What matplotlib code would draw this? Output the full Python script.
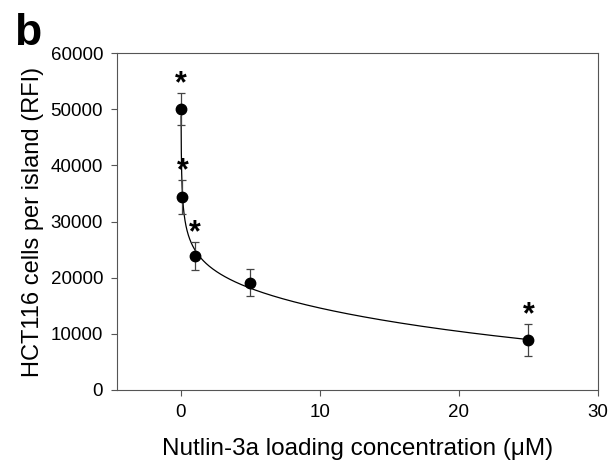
import numpy as np
import matplotlib.pyplot as plt

plt.rcParams['font.family'] = ['Liberation Sans', 'DejaVu Sans']

conc = [0.01, 0.1, 1, 5, 25]
cells = [50000, 34300, 23900, 19100, 8900]
err = [2850, 3000, 2450, 2450, 2800]
signif = [True, True, True, False, True]


def fitCurve(x, y):
    # power law with exponential cutoff, fitted in log space
    A = np.column_stack([np.ones_like(x), np.log(x), x])
    coef, _, _, _ = np.linalg.lstsq(A, np.log(y), rcond=None)
    return lambda t: np.exp(coef[0] + coef[1] * np.log(t) + coef[2] * t)


x = np.array(conc)
y = np.array(cells)
f = fitCurve(x, y)
xs = np.geomspace(x.min(), x.max(), 600)

fig = plt.figure(figsize=(6.16, 4.63), dpi=100)
ax = fig.add_axes([117 / 616, 1 - 390 / 463, 481 / 616, 337 / 463])

ax.plot(xs, f(xs), color='black', lw=0.9)
ax.errorbar(conc, cells, yerr=err, fmt='none', ecolor='#444444', elinewidth=0.9,
            capsize=3, capthick=0.9)
ax.plot(conc, cells, 'o', color='black', markersize=7.5)

for cx, cy, ce, s in zip(conc, cells, err, signif):
    if s:
        ax.text(cx, cy + ce - 1100, '*', ha='center', va='bottom',
                fontsize=22, fontweight='bold')

ax.set_xlim(-4.6, 30)
ax.set_ylim(0, 60000)
ax.set_xticks([0, 10, 20, 30])
ax.set_yticks(range(0, 60001, 10000))
ax.tick_params(direction='out', length=4, width=0.8, color='#555555',
               labelsize=13.5, pad=6, top=False, right=False)
for sp in ax.spines.values():
    sp.set_color('#555555')
    sp.set_linewidth(0.8)

ax.set_xlabel('Nutlin-3a loading concentration (\u03bcM)', fontsize=17.5, labelpad=12)
ax.set_ylabel('HCT116 cells per island (RFI)', fontsize=17, labelpad=5)
fig.text(14 / 616, 1 - 45 / 463, 'b', fontsize=32, fontweight='bold')

fig.savefig('out.png', dpi=100)
